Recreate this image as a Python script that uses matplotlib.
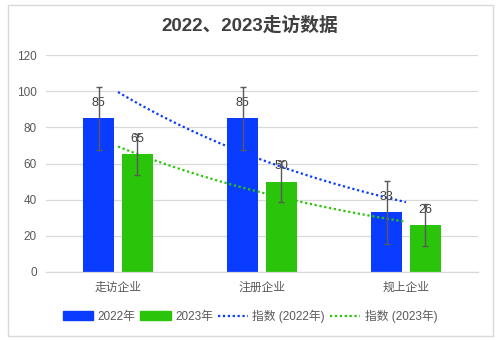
import numpy as np
import matplotlib
matplotlib.use("Agg")
import matplotlib.pyplot as plt
from matplotlib.patches import Rectangle
from matplotlib.lines import Line2D
from matplotlib.patches import Patch

plt.rcParams['font.family'] = ['Liberation Sans', 'Noto Sans CJK SC', 'DejaVu Sans']

categories = ["走访企业", "注册企业", "规上企业"]
values_2022 = [85, 85, 33]
values_2023 = [65, 50, 26]
err_2022 = [17.3, 17.3, 17.3]
err_2023 = [11.4, 11.4, 11.4]
series_names = ["2022年", "2023年"]
trend_names = ["指数 (2022年)", "指数 (2023年)"]
title = "2022、2023走访数据"
yticks = [0, 20, 40, 60, 80, 100, 120]

blue = "#0a3cff"
green = "#2ac40a"
text_col = "#595959"
grid_col = "#d9d9d9"
err_col = "#595959"

fig = plt.figure(figsize=(4.99, 3.40), dpi=100)
fig.patches.append(Rectangle((7.5 / 499, 4.5 / 340), 485 / 499, 331 / 340,
                             transform=fig.transFigure, fill=False,
                             edgecolor="#d9d9d9", lw=1.0))

ax = fig.add_axes([46 / 499, 68 / 340, 432 / 499, 217 / 340])
x = np.arange(len(categories))
w = 0.215
off = 0.135

def exp_trend(vals):
    xs = x + 1
    b, a = np.polyfit(xs, np.log(vals), 1)
    xx = np.linspace(xs[0], xs[-1], 100)
    return xx - 1, np.exp(a + b * xx)

for vals, errs, col, sign in [(values_2022, err_2022, blue, -1),
                              (values_2023, err_2023, green, 1)]:
    pos = x + sign * off
    ax.bar(pos, vals, width=w, color=col, zorder=2)
    for p, v in zip(pos, vals):
        ax.text(p, v + 8.5, str(v), ha="center", va="center",
                fontsize=9, color="#404040", zorder=4)
    ax.errorbar(pos, vals, yerr=errs, fmt="none", ecolor=err_col,
                elinewidth=1.0, capsize=2.5, capthick=1.0, zorder=5)

for vals, col in [(values_2022, blue), (values_2023, green)]:
    tx, ty = exp_trend(vals)
    ax.plot(tx, ty, color=col, lw=1.6, ls=(0, (1, 1.2)), zorder=3)

ax.set_xlim(-0.5, 2.5)
ax.set_ylim(0, 120)
ax.set_yticks(yticks)
ax.set_xticks(x)
ax.set_xticklabels(categories)
ax.tick_params(axis="both", length=0, labelsize=8.5, labelcolor=text_col)
ax.tick_params(axis="y", pad=6.5)
ax.tick_params(axis="x", pad=7)
ax.grid(axis="y", color=grid_col, lw=0.9, zorder=0)
ax.set_axisbelow(True)
for s in ["top", "right", "left"]:
    ax.spines[s].set_visible(False)
ax.spines["bottom"].set_color(grid_col)
ax.spines["bottom"].set_linewidth(0.9)

fig.text(250 / 499, 1 - 25 / 340, title, ha="center", va="center",
         fontsize=13.5, fontweight="bold", color="#404040")

handles = [Patch(color=blue), Patch(color=green),
           Line2D([], [], color=blue, lw=1.6, ls=(0, (1, 1.2))),
           Line2D([], [], color=green, lw=1.6, ls=(0, (1, 1.2)))]
leg = fig.legend(handles, series_names + trend_names, loc="center",
                 bbox_to_anchor=(250 / 499, 1 - 316 / 340), ncol=4,
                 frameon=False, fontsize=8.5, handlelength=2.6,
                 handleheight=0.7, handletextpad=0.35, columnspacing=0.4,
                 borderaxespad=0)
for t in leg.get_texts():
    t.set_color(text_col)

fig.savefig("out.png", dpi=100)
